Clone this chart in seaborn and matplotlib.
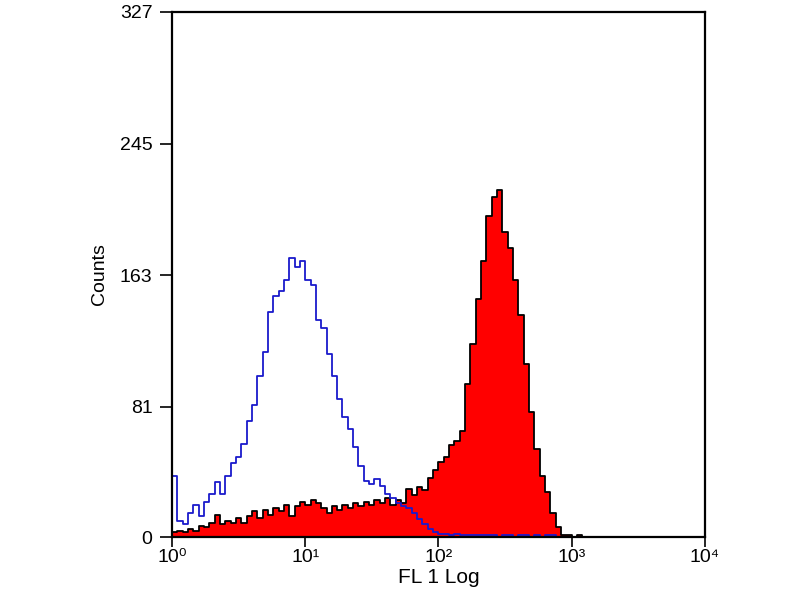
import numpy as np
import pandas as pd
import matplotlib
matplotlib.use("Agg")
import matplotlib.pyplot as plt
import seaborn as sns

# Histogram channel counts (100 log channels over 10^0..10^4)
blue_counts = [
    38, 10, 8, 15, 20, 13, 22, 27, 34, 27,
    38, 46, 50, 58, 72, 82, 100, 115, 140, 150,
    153, 160, 174, 168, 172, 160, 157, 135, 130, 114,
    100, 86, 75, 67, 56, 44, 35, 33, 36, 32,
    27, 24, 21, 19, 18, 15, 11, 8, 5, 3,
    2, 2, 1, 2, 1, 1, 1, 1, 1, 1,
    1, 0, 1, 1, 0, 1, 1, 0, 1, 0,
    1, 1, 0, 0, 0, 0, 0, 0, 0, 0,
    0, 0, 0, 0, 0, 0, 0, 0, 0, 0,
    0, 0, 0, 0, 0, 0, 0, 0, 0, 0,
]
red_counts = [
    3, 4, 3, 5, 4, 7, 6, 9, 14, 8,
    10, 9, 12, 9, 13, 16, 12, 17, 14, 18,
    16, 20, 13, 19, 22, 20, 23, 21, 18, 15,
    19, 17, 20, 18, 21, 19, 22, 20, 23, 21,
    24, 20, 23, 21, 30, 26, 31, 29, 37, 42,
    47, 50, 57, 60, 66, 95, 120, 148, 172, 200,
    212, 216, 190, 180, 160, 138, 108, 78, 55, 38,
    28, 15, 6, 1, 1, 0, 1, 0, 0, 0,
    0, 0, 0, 0, 0, 0, 0, 0, 0, 0,
    0, 0, 0, 0, 0, 0, 0, 0, 0, 0,
]
y_ticks = [0, 81, 163, 245, 327]
x_ticks = [1, 10, 100, 1000, 10000]
x_tick_labels = ["10⁰", "10¹", "10²", "10³", "10⁴"]

n_chan = len(blue_counts)
channels = 10 ** ((np.arange(n_chan) + 0.5) * 4 / n_chan)
df = pd.DataFrame({"FL1": channels, "blue": blue_counts, "red": red_counts})

sns.set_style("white")
plt.rcParams["font.family"] = ["Liberation Sans", "DejaVu Sans"]

fig = plt.figure(figsize=(8, 6), dpi=100)
ax = fig.add_axes([0.215, 0.105, 0.666, 0.875])

sns.histplot(
    data=df, x="FL1", weights="red", bins=n_chan, binrange=(0, 4),
    log_scale=True, element="step", fill=True, color="#ff0000",
    alpha=1, edgecolor="black", linewidth=1.3, ax=ax,
)
sns.histplot(
    data=df, x="FL1", weights="blue", bins=n_chan, binrange=(0, 4),
    log_scale=True, element="step", fill=False, color="#1a1acc",
    linewidth=1.3, ax=ax,
)

ax.set_xlim(1, 10000)
ax.set_ylim(0, 327)
ax.set_xticks(x_ticks)
ax.set_xticklabels(x_tick_labels)
ax.minorticks_off()
ax.set_yticks(y_ticks)
ax.set_yticklabels([str(v) for v in y_ticks])

for s in ax.spines.values():
    s.set_linewidth(1.6)
    s.set_color("black")
ax.tick_params(axis="y", direction="out", length=9, width=1.2, colors="black",
               labelsize=14, pad=5, left=True)
ax.tick_params(axis="x", direction="out", length=7, width=1.2, colors="black",
               labelsize=14, pad=2, bottom=True)

ax.set_xlabel("FL 1 Log", fontsize=15, labelpad=1, color="black")
ax.set_ylabel("Counts", fontsize=14, color="black")
ax.yaxis.set_label_coords(-0.12, 0.5)

plt.savefig("out.png", dpi=100)
plt.close()
